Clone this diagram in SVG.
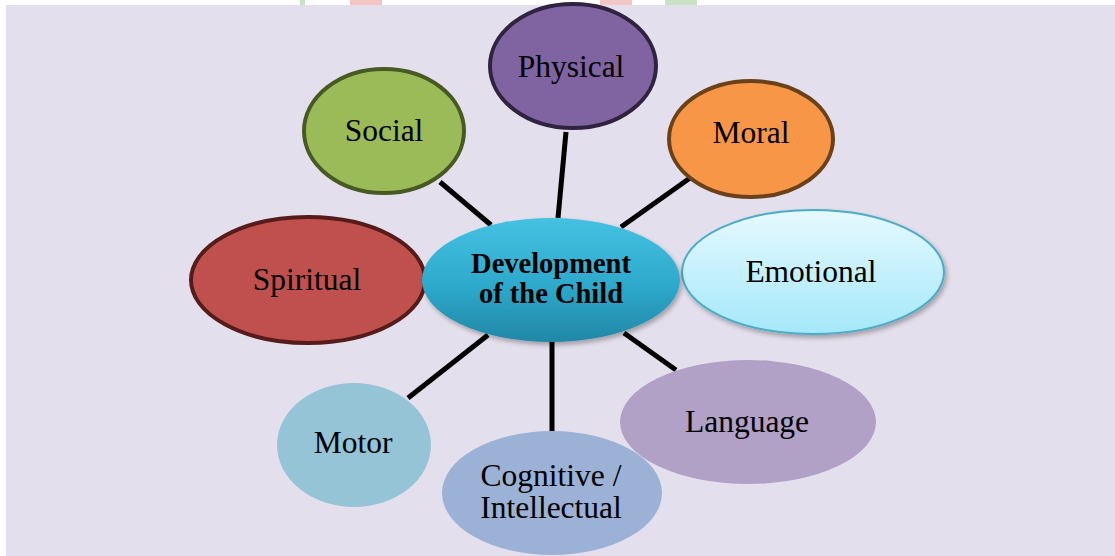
<svg xmlns="http://www.w3.org/2000/svg" width="1115" height="556" viewBox="0 0 1115 556">
  <defs>
    <style>
      text { font-family: 'Liberation Serif', 'Times New Roman', 'DejaVu Serif', serif; fill: #000; text-anchor: middle; }
      .lbl { font-size: 31.5px; }
      .hub { font-size: 28.5px; font-weight: bold; }
      .link { stroke: #000; stroke-width: 5; stroke-linecap: butt; fill: none; }
    </style>
    <linearGradient id="hubFill" x1="0" y1="0" x2="0" y2="1">
      <stop offset="0" stop-color="#45C1E2"/>
      <stop offset="0.55" stop-color="#2DA9CB"/>
      <stop offset="1" stop-color="#2287A6"/>
    </linearGradient>
    <linearGradient id="emoFill" x1="0" y1="0" x2="0" y2="1">
      <stop offset="0" stop-color="#E6F9FF"/>
      <stop offset="1" stop-color="#A4E8FA"/>
    </linearGradient>
    <filter id="soft" x="-10%" y="-10%" width="125%" height="130%">
      <feGaussianBlur in="SourceAlpha" stdDeviation="2.5"/>
      <feOffset dx="2" dy="3" result="b"/>
      <feComponentTransfer><feFuncA type="linear" slope="0.3"/></feComponentTransfer>
      <feMerge><feMergeNode/><feMergeNode in="SourceGraphic"/></feMerge>
    </filter>
  </defs>

  <!-- page -->
  <rect x="0" y="0" width="1115" height="556" fill="#FFFFFF"/>
  <rect x="300" y="0" width="5" height="5" fill="#C9E2C3"/>
  <rect x="350" y="0" width="32" height="5" fill="#F4C6C3"/>
  <rect x="600" y="0" width="32" height="5" fill="#F4C6C3"/>
  <rect x="665" y="0" width="32" height="5" fill="#C9E2C3"/>
  <rect x="6" y="5" width="1109" height="551" fill="#E4DFEC"/>

  <!-- spokes -->
  <g id="connectors">
    <line class="link" x1="566" y1="132" x2="558" y2="218"/>
    <line class="link" x1="440" y1="182" x2="491" y2="225"/>
    <line class="link" x1="690" y1="178" x2="621" y2="227"/>
    <line class="link" x1="408" y1="398" x2="488" y2="335"/>
    <line class="link" x1="552" y1="432" x2="552" y2="342"/>
    <line class="link" x1="676" y1="370" x2="624" y2="333"/>
  </g>

  <g id="physical">
    <ellipse cx="573" cy="66" rx="83" ry="62" fill="#8064A2" stroke="#2F2340" stroke-width="4"/>
    <text class="lbl" x="571" y="77">Physical</text>
  </g>

  <g id="social">
    <ellipse cx="384" cy="131" rx="80" ry="62" fill="#9BBB59" stroke="#485A24" stroke-width="4"/>
    <text class="lbl" x="384" y="141">Social</text>
  </g>

  <g id="moral">
    <ellipse cx="751" cy="139" rx="82" ry="58" fill="#F79646" stroke="#6B4119" stroke-width="4"/>
    <text class="lbl" x="751" y="143">Moral</text>
  </g>

  <g id="spiritual">
    <ellipse cx="308" cy="280" rx="117" ry="63" fill="#C0504D" stroke="#561C1B" stroke-width="4"/>
    <text class="lbl" x="307" y="290">Spiritual</text>
  </g>

  <g id="emotional">
    <ellipse cx="813" cy="272" rx="131" ry="62" fill="url(#emoFill)" stroke="#4BACC6" stroke-width="2" filter="url(#soft)"/>
    <text class="lbl" x="811" y="282">Emotional</text>
  </g>

  <g id="motor">
    <ellipse cx="354" cy="445" rx="77" ry="62" fill="#95C4D6"/>
    <text class="lbl" x="353" y="453">Motor</text>
  </g>

  <g id="cognitive">
    <ellipse cx="552" cy="493" rx="110" ry="62" fill="#9BB1D5"/>
    <text class="lbl" x="551" y="486">Cognitive /</text>
    <text class="lbl" x="551" y="518">Intellectual</text>
  </g>

  <g id="language">
    <ellipse cx="748" cy="422" rx="128" ry="62" fill="#B1A1C7"/>
    <text class="lbl" x="747" y="432">Language</text>
  </g>

  <g id="hub">
    <ellipse cx="551" cy="280" rx="129" ry="62" fill="url(#hubFill)" filter="url(#soft)"/>
    <text class="hub" x="551" y="273">Development</text>
    <text class="hub" x="551" y="303">of the Child</text>
  </g>
</svg>
